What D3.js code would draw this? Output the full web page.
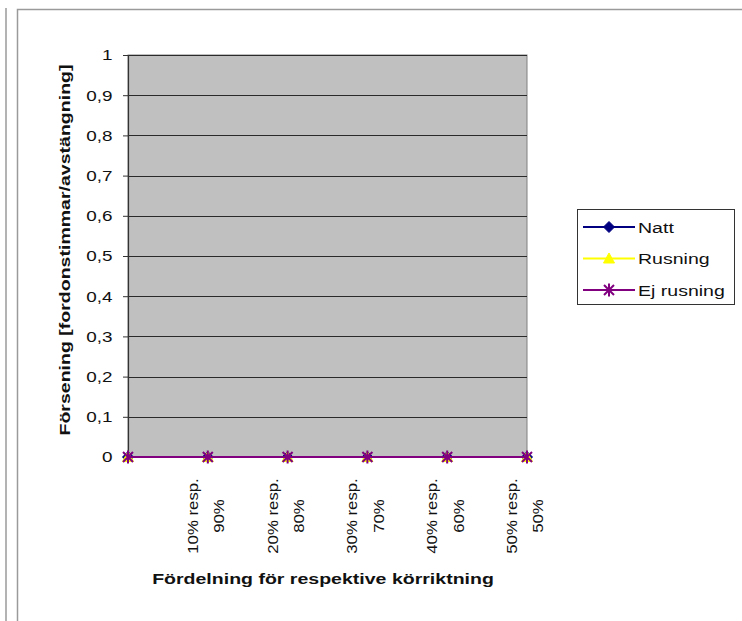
<!DOCTYPE html>
<html>
<head>
<meta charset="utf-8">
<script src="https://cdn.jsdelivr.net/npm/d3@7"></script>
<style>
  html, body { margin: 0; padding: 0; background: #fff; }
  svg { display: block; font-family: "Liberation Sans", Arial, sans-serif; }
</style>
</head>
<body>
<svg id="chart" width="742" height="621"></svg>
<script>
// Categories along the x axis (first position carries no label)
const categories = ["", "10% resp.\n90%", "20% resp.\n80%", "30% resp.\n70%", "40% resp.\n60%", "50% resp.\n50%"];
// Delay per series, one value per category
const natt = [0, 0, 0, 0, 0, 0];
const rusning = [0, 0, 0, 0, 0, 0];
const ejRusning = [0, 0, 0, 0, 0, 0];
// Y tick values and labels
const yTicks = [0, 0.1, 0.2, 0.3, 0.4, 0.5, 0.6, 0.7, 0.8, 0.9, 1];
const yTickLabels = ["0", "0,1", "0,2", "0,3", "0,4", "0,5", "0,6", "0,7", "0,8", "0,9", "1"];
const seriesNames = ["Natt", "Rusning", "Ej rusning"];

const series = [
  { name: seriesNames[0], values: natt, color: "#000080", marker: "diamond" },
  { name: seriesNames[1], values: rusning, color: "#FFFF00", marker: "triangle" },
  { name: seriesNames[2], values: ejRusning, color: "#800080", marker: "star" }
];

// Text is drawn slightly widened along its own direction
const WIDE = 1.26;

const svg = d3.select("#chart");

// Outer frames
svg.append("line").attr("x1", 6).attr("x2", 6).attr("y1", 8).attr("y2", 621)
  .attr("stroke", "#9a9a9a").attr("stroke-width", 1.5);
svg.append("path").attr("d", "M17.5,621 V9.5 H742")
  .attr("fill", "none").attr("stroke", "#9a9a9a").attr("stroke-width", 1.5);

const plot = { left: 128, right: 527, top: 55, bottom: 457 };

const x = d3.scalePoint().domain(d3.range(categories.length)).range([plot.left, plot.right]);
const y = d3.scaleLinear().domain([0, 1]).range([plot.bottom, plot.top]);

// Plot area
svg.append("rect")
  .attr("x", plot.left).attr("y", plot.top)
  .attr("width", plot.right - plot.left).attr("height", plot.bottom - plot.top)
  .attr("fill", "#C0C0C0").attr("stroke", "#808080").attr("stroke-width", 1);

// Gridlines
svg.append("g").selectAll("line").data(yTicks.filter(v => v > 0)).join("line")
  .attr("x1", plot.left).attr("x2", plot.right)
  .attr("y1", d => Math.round(y(d)) + 0.5).attr("y2", d => Math.round(y(d)) + 0.5)
  .attr("stroke", "#2a2a2a").attr("stroke-width", 1);

// Y axis
const yAxis = d3.axisLeft(y).tickValues(yTicks)
  .tickFormat((d, i) => yTickLabels[i]).tickSize(5).tickPadding(10);
const gy = svg.append("g").attr("transform", `translate(${plot.left},0)`).call(yAxis);
gy.select(".domain").attr("stroke", "#333").attr("stroke-width", 1.2);
gy.selectAll(".tick line").attr("stroke", "#333");
gy.selectAll(".tick text")
  .attr("x", 0)
  .attr("transform", `translate(-15.5,0) scale(${WIDE},1)`)
  .attr("font-size", 15).attr("fill", "#111")
  .attr("font-family", "Liberation Sans, Arial, sans-serif");

// X axis
const xAxis = d3.axisBottom(x).tickSize(4).tickFormat("");
const gx = svg.append("g").attr("transform", `translate(0,${plot.bottom})`).call(xAxis);
gx.select(".domain").attr("stroke", "#333").attr("stroke-width", 1.2);
gx.selectAll(".tick line").attr("stroke", "#333");

// Rotated two-line category labels
const lab = svg.append("g").selectAll("text").data(categories.map((c, i) => ({ c, i })).filter(d => d.c))
  .join("text")
  .attr("transform", d => `translate(${x(d.i)},516) rotate(-90) scale(1.12,1)`)
  .attr("text-anchor", "middle")
  .attr("font-size", 15).attr("fill", "#111");
lab.each(function (d) {
  const lines = d.c.split("\n");
  const t = d3.select(this);
  lines.forEach((l, k) => {
    t.append("tspan").attr("x", 0).attr("y", k === 0 ? -10 : 16.5).text(l);
  });
});

// Axis titles
svg.append("text")
  .attr("transform", `translate(70,250) rotate(-90) scale(${WIDE},1)`)
  .attr("text-anchor", "middle").attr("font-size", 15.5).attr("font-weight", "bold")
  .attr("fill", "#111").text("Försening [fordonstimmar/avstängning]");
svg.append("text")
  .attr("transform", `translate(323,584) scale(${WIDE},1)`)
  .attr("text-anchor", "middle").attr("font-size", 15.5).attr("font-weight", "bold")
  .attr("fill", "#111").text("Fördelning för respektive körriktning");

// Marker drawing
function drawMarker(g, type, color) {
  if (type === "diamond") {
    g.append("path").attr("d", "M0,-5.5 L5.5,0 L0,5.5 L-5.5,0 Z").attr("fill", color).attr("stroke", color);
  } else if (type === "triangle") {
    g.append("path").attr("d", "M0,-5.5 L5.5,4.5 L-5.5,4.5 Z").attr("fill", color).attr("stroke", color);
  } else {
    g.append("path").attr("d", "M-5,-5 L5,5 M-5,5 L5,-5 M0,-6.5 L0,6.5")
      .attr("stroke", color).attr("stroke-width", 2).attr("fill", "none");
  }
}

// Series lines and markers
const line = d3.line().x((d, i) => x(i)).y(d => y(d));
series.forEach(s => {
  svg.append("path").datum(s.values).attr("d", line)
    .attr("fill", "none").attr("stroke", s.color).attr("stroke-width", 2);
  s.values.forEach((v, i) => {
    const g = svg.append("g").attr("transform", `translate(${x(i)},${y(v)})`);
    drawMarker(g, s.marker, s.color);
  });
});

// Legend
const legendY = [227, 258.5, 290];
const lg = svg.append("g");
lg.append("rect").attr("x", 577.5).attr("y", 209.5).attr("width", 157).attr("height", 95)
  .attr("fill", "#fff").attr("stroke", "#333").attr("stroke-width", 1);
series.forEach((s, i) => {
  const yy = legendY[i];
  lg.append("line").attr("x1", 583).attr("x2", 635).attr("y1", yy).attr("y2", yy)
    .attr("stroke", s.color).attr("stroke-width", 2);
  const g = lg.append("g").attr("transform", `translate(609,${yy})`);
  drawMarker(g, s.marker, s.color);
  lg.append("text").attr("transform", `translate(638,${yy + 5.5}) scale(${WIDE},1)`)
    .attr("font-size", 15.5).attr("fill", "#111").text(s.name);
});
</script>
</body>
</html>
